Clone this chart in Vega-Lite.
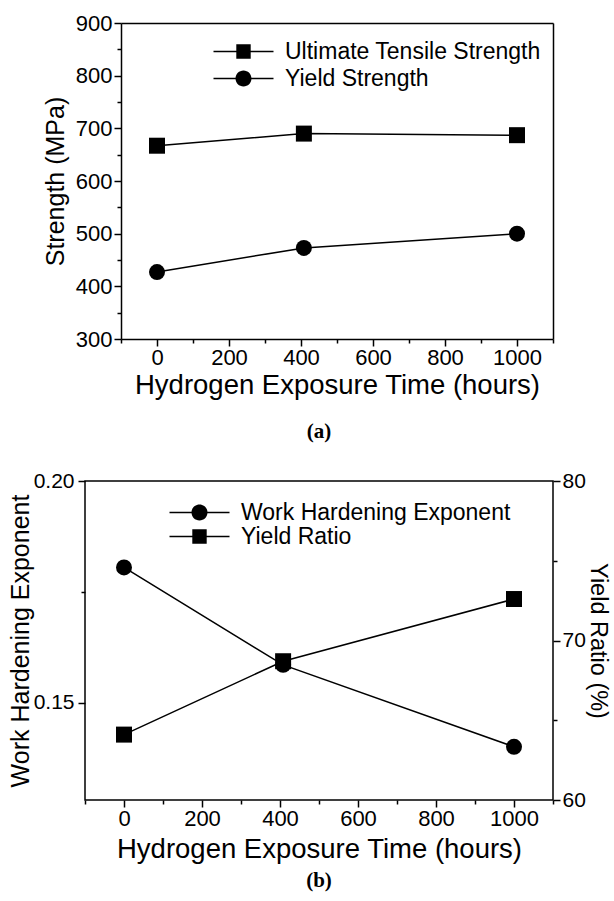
{
  "$schema": "https://vega.github.io/schema/vega-lite/v6.json",
  "padding": {"left": 7, "top": 12, "right": 0, "bottom": 5},
  "background": "white",
  "datasets": {
    "a": [
      {"time": 0, "series": "Ultimate Tensile Strength", "value": 667},
      {"time": 408, "series": "Ultimate Tensile Strength", "value": 690},
      {"time": 1000, "series": "Ultimate Tensile Strength", "value": 687},
      {"time": 0, "series": "Yield Strength", "value": 427},
      {"time": 408, "series": "Yield Strength", "value": 473},
      {"time": 1000, "series": "Yield Strength", "value": 500}
    ],
    "b": [
      {"time": 0, "series": "Work Hardening Exponent", "value": 0.1805},
      {"time": 408, "series": "Work Hardening Exponent", "value": 0.1585},
      {"time": 1000, "series": "Work Hardening Exponent", "value": 0.140},
      {"time": 0, "series": "Yield Ratio", "value": 64.1},
      {"time": 408, "series": "Yield Ratio", "value": 68.7},
      {"time": 1000, "series": "Yield Ratio", "value": 72.6}
    ]
  },
  "config": {
    "font": "Liberation Sans",
    "view": {"stroke": "black", "strokeWidth": 1.5},
    "axis": {
      "domain": false, "domainColor": "black", "domainWidth": 1.5, "grid": false,
      "tickColor": "black", "tickWidth": 1.5, "tickSize": 7,
      "labelFont": "Liberation Sans", "labelFontSize": 22, "labelColor": "black",
      "labelFlush": false, "labelOverlap": false,
      "titleFont": "Liberation Sans", "titleFontSize": 25, "titleFontWeight": "normal", "titleColor": "black"
    },
    "legend": {"labelLimit": 500},
    "title": {"font": "Liberation Serif", "fontWeight": "bold", "fontSize": 21, "color": "black"}
  },
  "spacing": 27,
  "resolve": {"scale": {"shape": "independent"}, "legend": {"shape": "independent"}},
  "vconcat": [
    {
      "width": 468, "height": 316,
      "view": {"stroke": null},
      "data": {"name": "a"},
      "title": {"text": "(a)", "orient": "bottom", "offset": 22},
      "layer": [
        {
          "mark": {"type": "line", "color": "black", "strokeWidth": 1.5},
          "encoding": {
            "x": {"field": "time", "type": "quantitative",
              "scale": {"domain": [-100, 1100], "range": [36, 468], "nice": false, "zero": false},
              "axis": {"orient": "bottom", "domain": true, "values": [0, 200, 400, 600, 800, 1000], "format": "d", "title": "Hydrogen Exposure Time (hours)", "titleFontSize": 27.5, "labelPadding": 1, "titlePadding": 3}},
            "y": {"field": "value", "type": "quantitative",
              "scale": {"domain": [300, 900], "nice": false, "zero": false},
              "axis": {"orient": "left", "offset": -36, "domain": true, "values": [300, 400, 500, 600, 700, 800, 900], "title": "Strength (MPa)", "labelPadding": 2, "titlePadding": 7}},
            "detail": {"field": "series"}
          }
        },
        {
          "mark": {"type": "point", "filled": true, "color": "black", "size": 256, "opacity": 1},
          "encoding": {
            "x": {"field": "time", "type": "quantitative",
              "axis": {"orient": "bottom", "values": [-100, 100, 300, 500, 700, 900, 1100], "labels": false, "title": null, "tickSize": 4}},
            "y": {"field": "value", "type": "quantitative",
              "axis": {"orient": "left", "offset": -36, "values": [350, 450, 550, 650, 750, 850], "labels": false, "title": null, "tickSize": 4}},
            "shape": {"field": "series", "type": "nominal",
              "scale": {"domain": ["Ultimate Tensile Strength", "Yield Strength"], "range": ["square", "circle"]},
              "legend": null}
          }
        },
        {
          "mark": {"type": "point", "opacity": 0, "filled": true, "color": "black"},
          "encoding": {
            "x": {"field": "time", "type": "quantitative",
              "axis": {"orient": "top", "domain": true, "ticks": false, "labels": false, "title": null}},
            "y": {"field": "value", "type": "quantitative",
              "axis": {"orient": "right", "domain": true, "ticks": false, "labels": false, "title": null}},
            "shape": {"field": "series", "type": "nominal",
              "scale": {"domain": ["Ultimate Tensile Strength", "Yield Strength"],
                "range": ["M-3,-0.075H3V0.075H-3ZM-0.72,-0.72H0.72V0.72H-0.72Z", "M-3,-0.075H3V0.075H-3ZM0.8,0A0.8,0.8,0,1,1,-0.8,0A0.8,0.8,0,1,1,0.8,0Z"]},
              "legend": {
                "title": null, "orient": "none", "legendX": 147, "legendY": 17,
                "symbolSize": 400, "symbolOpacity": 1, "symbolFillColor": "black", "symbolStrokeWidth": 0,
                "labelFont": "Liberation Sans", "labelFontSize": 23, "labelColor": "black",
                "labelOffset": 30, "rowPadding": 3
              }}
          }
        }
      ],
      "resolve": {"scale": {"shape": "independent"}, "axis": {"x": "independent", "y": "independent"}}
    },
    {
      "width": 468, "height": 319,
      "data": {"name": "b"},
      "title": {"text": "(b)", "orient": "bottom", "offset": 7},
      "layer": [
        {
          "transform": [{"filter": "datum.series === 'Work Hardening Exponent'"}],
          "layer": [
            {
              "mark": {"type": "line", "color": "black", "strokeWidth": 1.5},
              "encoding": {
                "x": {"field": "time", "type": "quantitative",
                  "scale": {"domain": [-100, 1100], "nice": false, "zero": false},
                  "axis": {"orient": "bottom", "values": [0, 200, 400, 600, 800, 1000], "format": "d", "title": "Hydrogen Exposure Time (hours)", "titleFontSize": 27.5, "labelPadding": 1, "titlePadding": 6}},
                "y": {"field": "value", "type": "quantitative",
                  "scale": {"domain": [0.128, 0.2], "nice": false, "zero": false},
                  "axis": {"orient": "left", "values": [0.15, 0.2], "format": ".2f", "labelFontSize": 21, "title": "Work Hardening Exponent", "labelPadding": 4, "titlePadding": 0}}
              }
            },
            {
              "mark": {"type": "point", "shape": "circle", "filled": true, "color": "black", "size": 256, "opacity": 1},
              "encoding": {
                "x": {"field": "time", "type": "quantitative",
                  "axis": {"orient": "bottom", "values": [-100, 100, 300, 500, 700, 900, 1100], "labels": false, "title": null, "tickSize": 4}},
                "y": {"field": "value", "type": "quantitative",
                  "axis": {"orient": "left", "values": [0.175], "labels": false, "title": null, "tickSize": 4}}
              }
            }
          ],
          "resolve": {"axis": {"x": "independent", "y": "independent"}}
        },
        {
          "transform": [{"filter": "datum.series === 'Yield Ratio'"}],
          "layer": [
            {
              "mark": {"type": "line", "color": "black", "strokeWidth": 1.5},
              "encoding": {
                "x": {"field": "time", "type": "quantitative", "axis": null},
                "y": {"field": "value", "type": "quantitative",
                  "scale": {"domain": [60, 80], "nice": false, "zero": false},
                  "axis": {"orient": "right", "values": [60, 70, 80], "labelFontSize": 21, "title": "Yield Ratio (%)", "titleFontSize": 23.5, "labelPadding": 2, "titlePadding": 0}}
              }
            },
            {
              "mark": {"type": "point", "shape": "square", "filled": true, "color": "black", "size": 256, "opacity": 1},
              "encoding": {
                "x": {"field": "time", "type": "quantitative", "axis": null},
                "y": {"field": "value", "type": "quantitative",
                  "axis": {"orient": "right", "values": [65, 75], "labels": false, "title": null, "tickSize": 4}}
              }
            }
          ],
          "resolve": {"axis": {"y": "independent"}}
        },
        {
          "mark": {"type": "point", "opacity": 0, "filled": true, "color": "black"},
          "encoding": {
            "shape": {"field": "series", "type": "nominal",
              "scale": {"domain": ["Work Hardening Exponent", "Yield Ratio"],
                "range": ["M-3,-0.075H3V0.075H-3ZM0.8,0A0.8,0.8,0,1,1,-0.8,0A0.8,0.8,0,1,1,0.8,0Z", "M-3,-0.075H3V0.075H-3ZM-0.72,-0.72H0.72V0.72H-0.72Z"]},
              "legend": {
                "title": null, "orient": "none", "legendX": 103, "legendY": 20,
                "symbolSize": 400, "symbolOpacity": 1, "symbolFillColor": "black", "symbolStrokeWidth": 0,
                "labelFont": "Liberation Sans", "labelFontSize": 23, "labelColor": "black",
                "labelOffset": 30, "rowPadding": 0
              }}
          }
        }
      ],
      "resolve": {"scale": {"y": "independent"}, "axis": {"x": "independent", "y": "independent"}}
    }
  ]
}
